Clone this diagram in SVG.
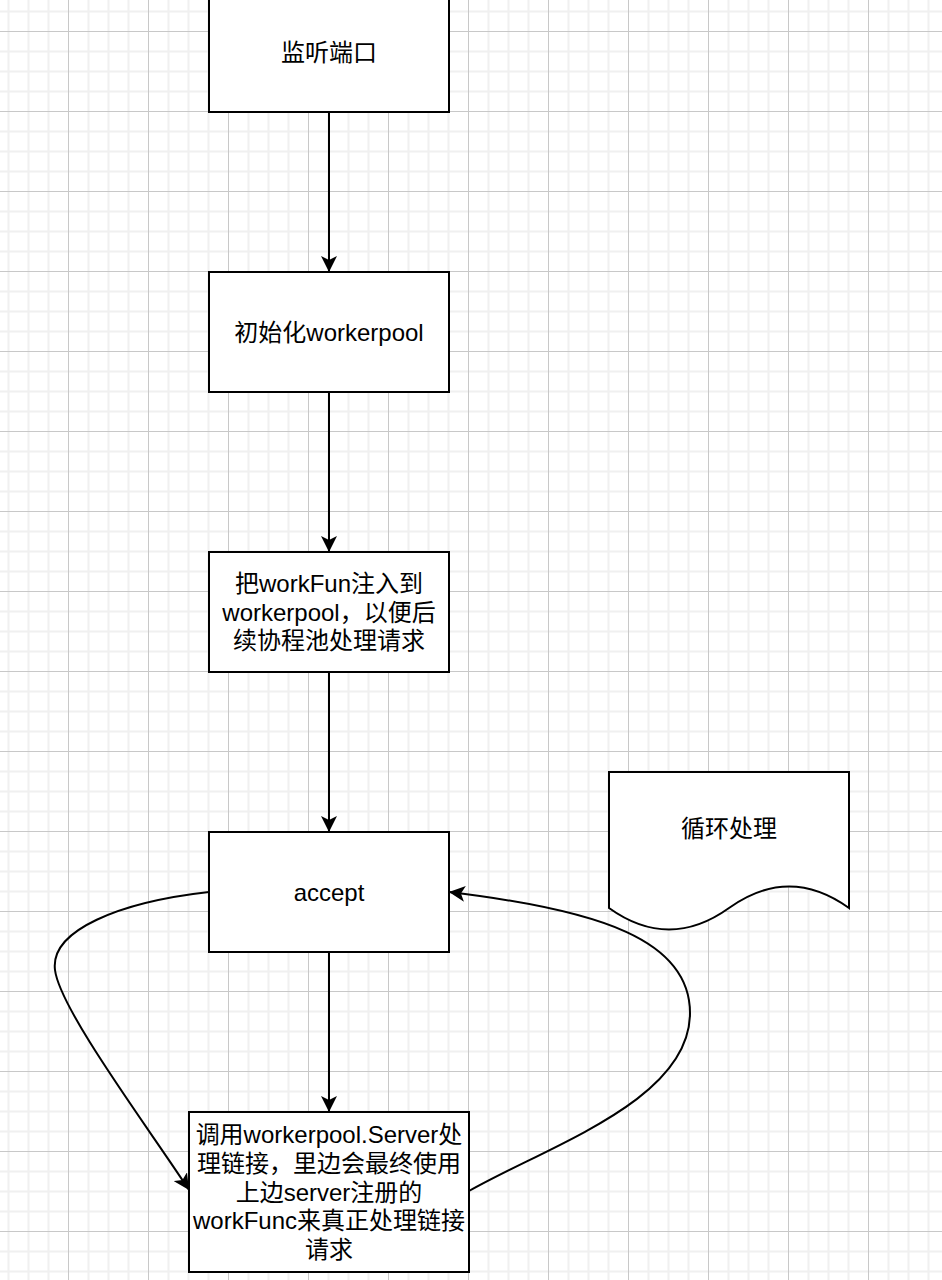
<svg xmlns="http://www.w3.org/2000/svg" width="942" height="1280" viewBox="0 0 942 1280">
<defs>
<pattern id="grid" width="80" height="80" patternUnits="userSpaceOnUse" x="68" y="31">
<path d="M20.5 0V80M40.5 0V80M60.5 0V80M0 20.5H80M0 40.5H80M0 60.5H80" fill="none" stroke="#f0f0f0" stroke-width="2"/>
<path d="M0.5 0V80M0 0.5H80" fill="none" stroke="#c8c8c8" stroke-width="1"/>
</pattern>
<marker id="arr" markerUnits="userSpaceOnUse" viewBox="0 0 16 16" markerWidth="16" markerHeight="16" refX="16" refY="8" orient="auto">
<path d="M0,0 L16,8 L0,16 L4,8 Z" fill="#000"/>
</marker>
</defs>
<style>
.box{fill:#fff;stroke:#000;stroke-width:2}
.lbl{font-family:"Liberation Sans","Noto Sans CJK SC",sans-serif;font-size:24px;fill:#000;text-anchor:middle}
.edge{fill:none;stroke:#000;stroke-width:2;marker-end:url(#arr)}
</style>
<rect width="942" height="1280" fill="#fff"/>
<rect width="942" height="1280" fill="url(#grid)"/>
<g id="connectors">
<path class="edge" d="M329,112 V272"/>
<path class="edge" d="M329,392 V552"/>
<path class="edge" d="M329,672 V832"/>
<path class="edge" d="M329,952 V1112"/>
<path class="edge" d="M209,892 C120,902 50,930 55,970 C60,1010 150,1130 189,1190"/>
<path class="edge" d="M469,1191 C550,1145 690,1100 690,1013 C690,940 600,910 449,892"/>
</g>
<g id="n1">
<rect class="box" x="209" y="-8" width="240" height="120"/>
<text class="lbl" x="329" y="60.5">监听端口</text>
</g>
<g id="n2">
<rect class="box" x="209" y="272" width="240" height="120"/>
<text class="lbl" x="329" y="340.5">初始化workerpool</text>
</g>
<g id="n3">
<rect class="box" x="209" y="552" width="240" height="120"/>
<text class="lbl" x="329" y="591.7">把workFun注入到</text>
<text class="lbl" x="329" y="620.5">workerpool，以便后</text>
<text class="lbl" x="329" y="649.3">续协程池处理请求</text>
</g>
<g id="n4">
<rect class="box" x="209" y="832" width="240" height="120"/>
<text class="lbl" x="329" y="900.5">accept</text>
</g>
<g id="n5">
<rect class="box" x="189" y="1112" width="280" height="160"/>
<text class="lbl" x="329" y="1142.9">调用workerpool.Server处</text>
<text class="lbl" x="329" y="1171.7">理链接，里边会最终使用</text>
<text class="lbl" x="329" y="1200.5">上边server注册的</text>
<text class="lbl" x="329" y="1229.3">workFunc来真正处理链接</text>
<text class="lbl" x="329" y="1258.1">请求</text>
</g>
<g id="n6">
<path class="box" d="M609,772 H849 V908 Q789,865 729,908 Q669,951 609,908 Z"/>
<text class="lbl" x="729" y="836.5">循环处理</text>
</g>
</svg>
